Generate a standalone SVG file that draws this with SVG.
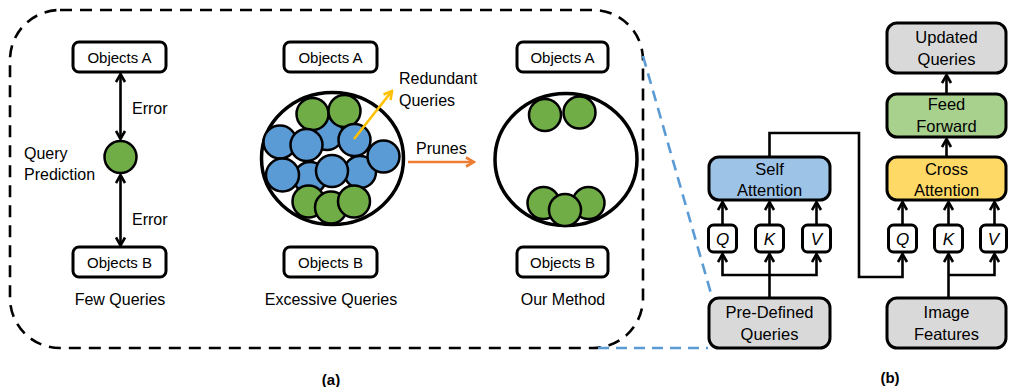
<svg xmlns="http://www.w3.org/2000/svg" width="1009" height="387" viewBox="0 0 1009 387">
  <defs>
    <marker id="arr" viewBox="0 0 12 12" markerWidth="12" markerHeight="12" refX="10" refY="6" orient="auto-start-reverse" markerUnits="userSpaceOnUse">
      <path d="M2,1.5 L10,6 L2,10.5" fill="none" stroke="#000" stroke-width="2.6" stroke-linejoin="miter"/>
    </marker>
    <marker id="arrY" viewBox="0 0 12 12" markerWidth="12" markerHeight="12" refX="10" refY="6" orient="auto" markerUnits="userSpaceOnUse">
      <path d="M2,1.5 L10,6 L2,10.5" fill="none" stroke="#ffc000" stroke-width="2.6"/>
    </marker>
    <marker id="arrO" viewBox="0 0 12 12" markerWidth="12" markerHeight="12" refX="10" refY="6" orient="auto" markerUnits="userSpaceOnUse">
      <path d="M2,1.5 L10,6 L2,10.5" fill="none" stroke="#ed7d31" stroke-width="2.6"/>
    </marker>
  </defs>
  <style>
    text { font-family: "Liberation Sans", Arial, sans-serif; fill: #000; }
    .lbl { font-size: 16px; }
    .box { fill: #fff; stroke: #000; stroke-width: 3; }
    .obj { font-size: 15px; text-anchor: middle; }
    .ring { fill: #fff; stroke: #000; stroke-width: 3.5; }
    .g { fill: #70ad47; stroke: #000; stroke-width: 2.5; }
    .b { fill: #5b9bd5; stroke: #000; stroke-width: 2.5; }
    .blk { fill: #000; stroke: #000; stroke-width: 3; stroke-linejoin: round; }
    .gray { fill: #d9d9d9; stroke: #000; stroke-width: 3; }
    .mid { font-size: 16.5px; text-anchor: middle; }
    .qkv { font-size: 17px; font-style: italic; text-anchor: middle; }
    .wire { fill: none; stroke: #000; stroke-width: 2.6; }
    .cap { font-size: 15px; font-weight: bold; text-anchor: middle; }
  </style>

  <!-- panel (a) frame and zoom guides -->
  <rect x="10" y="10" width="633" height="338" rx="50" ry="50" fill="none" stroke="#000" stroke-width="2.6" stroke-dasharray="12 8"/>
  <g id="zoom-guides" fill="none" stroke="#5b9bd5" stroke-width="2.6" stroke-dasharray="11 7">
    <path d="M643,56 L712,297"/>
    <path d="M598,348 L708,348"/>
  </g>

  <!-- few queries -->
  <g id="few-objA"><rect class="box" x="73" y="42" width="93" height="30" rx="6"/><text class="obj" x="119.5" y="62.5">Objects A</text></g>
  <g id="few-objB"><rect class="box" x="73" y="247" width="93" height="30" rx="6"/><text class="obj" x="119.5" y="267.5">Objects B</text></g>
  <g id="few-pred"><circle class="g" cx="120.5" cy="157" r="16"/></g>
  <text class="lbl" x="24" y="159">Query</text>
  <text class="lbl" x="24" y="180">Prediction</text>
  <text class="lbl" x="132" y="114">Error</text>
  <text class="lbl" x="132" y="225">Error</text>
  <text class="lbl" x="120" y="305" text-anchor="middle">Few Queries</text>

  <!-- excessive queries -->
  <g id="exc-objA"><rect class="box" x="284" y="42" width="93" height="30" rx="6"/><text class="obj" x="330.5" y="62.5">Objects A</text></g>
  <g id="exc-objB"><rect class="box" x="284" y="247" width="93" height="30" rx="6"/><text class="obj" x="330.5" y="267.5">Objects B</text></g>
  <g id="exc-set">
    <ellipse class="ring" cx="332.5" cy="158.5" rx="71" ry="66"/>
    <circle class="b" cx="327" cy="134" r="16"/>
    <circle class="b" cx="310" cy="178" r="16"/>
    <circle class="g" cx="312.5" cy="114" r="16"/>
    <circle class="g" cx="344.5" cy="111" r="16"/>
    <circle class="b" cx="280" cy="142" r="16.5"/>
    <circle class="b" cx="306.5" cy="145" r="16"/>
    <circle class="b" cx="360" cy="172" r="16"/>
    <circle class="b" cx="354.5" cy="140" r="16"/>
    <circle class="b" cx="383.5" cy="156.5" r="16"/>
    <circle class="b" cx="282.5" cy="175" r="16.5"/>
    <circle class="b" cx="332" cy="171" r="16"/>
    <circle class="g" cx="308.5" cy="201.5" r="16"/>
    <circle class="g" cx="331" cy="207.5" r="16"/>
    <circle class="g" cx="354" cy="201.5" r="16"/>
  </g>
  <text class="lbl" x="399" y="84">Redundant</text>
  <text class="lbl" x="399" y="106">Queries</text>
  <text class="lbl" x="416" y="154">Prunes</text>
  <text class="lbl" x="331" y="305" text-anchor="middle">Excessive Queries</text>

  <!-- our method -->
  <g id="our-objA"><rect class="box" x="517" y="42" width="91" height="30" rx="6"/><text class="obj" x="562.5" y="62.5">Objects A</text></g>
  <g id="our-objB"><rect class="box" x="517" y="247" width="91" height="30" rx="6"/><text class="obj" x="562.5" y="267.5">Objects B</text></g>
  <g id="our-set">
    <ellipse class="ring" cx="566" cy="159.5" rx="71" ry="66"/>
    <circle class="g" cx="545" cy="115" r="16"/>
    <circle class="g" cx="579.5" cy="112.5" r="16"/>
    <circle class="g" cx="543.5" cy="203" r="16"/>
    <circle class="g" cx="588.5" cy="203" r="16"/>
    <circle class="g" cx="565" cy="210" r="16"/>
  </g>
  <text class="lbl" x="563" y="305" text-anchor="middle">Our Method</text>

  <!-- panel (b) nodes -->
  <g id="pre-defined"><rect class="gray" x="709" y="298" width="121" height="50" rx="10"/><text class="mid" x="769.5" y="318">Pre-Defined</text><text class="mid" x="769.5" y="340">Queries</text></g>
  <g id="self-attn"><rect x="709" y="157" width="121" height="43" rx="10" fill="#9dc3e6" stroke="#000" stroke-width="3"/><text class="mid" x="769.5" y="175">Self</text><text class="mid" x="769.5" y="196">Attention</text></g>
  <g id="sa-q"><rect class="box" x="708.5" y="225" width="28" height="27" rx="5"/><text class="qkv" x="722.5" y="244.5">Q</text></g>
  <g id="sa-k"><rect class="box" x="755.5" y="225" width="28" height="27" rx="5"/><text class="qkv" x="769.5" y="244.5">K</text></g>
  <g id="sa-v"><rect class="box" x="802.5" y="225" width="28" height="27" rx="5"/><text class="qkv" x="816.5" y="244.5">V</text></g>

  <g id="image-features"><rect class="gray" x="887" y="298" width="119" height="50" rx="10"/><text class="mid" x="946.5" y="318">Image</text><text class="mid" x="946.5" y="340">Features</text></g>
  <g id="cross-attn"><rect x="887" y="157" width="119" height="43" rx="10" fill="#ffd966" stroke="#000" stroke-width="3"/><text class="mid" x="946.5" y="175">Cross</text><text class="mid" x="946.5" y="196">Attention</text></g>
  <g id="ca-q"><rect class="box" x="888.5" y="225" width="28" height="27" rx="5"/><text class="qkv" x="902.5" y="244.5">Q</text></g>
  <g id="ca-k"><rect class="box" x="934.5" y="225" width="28" height="27" rx="5"/><text class="qkv" x="948.5" y="244.5">K</text></g>
  <g id="ca-v"><rect class="box" x="980.5" y="225" width="26" height="27" rx="5"/><text class="qkv" x="993.5" y="244.5">V</text></g>
  <g id="feed-forward"><rect x="887" y="94" width="119" height="43" rx="10" fill="#a9d18e" stroke="#000" stroke-width="3"/><text class="mid" x="946.5" y="110">Feed</text><text class="mid" x="946.5" y="132">Forward</text></g>
  <g id="updated-queries"><rect class="gray" x="887" y="23" width="119" height="50" rx="10"/><text class="mid" x="946.5" y="43">Updated</text><text class="mid" x="946.5" y="65">Queries</text></g>

  <text class="cap" x="331" y="385">(a)</text>
  <text class="cap" x="890" y="383">(b)</text>

  <!-- connectors -->
  <g id="connectors">
    <path class="wire" d="M120.5,74 L120.5,139" marker-start="url(#arr)" marker-end="url(#arr)"/>
    <path class="wire" d="M120.5,175 L120.5,245.5" marker-start="url(#arr)" marker-end="url(#arr)"/>
    <path d="M354,139 L392,91" fill="none" stroke="#ffc000" stroke-width="2.6" marker-end="url(#arrY)"/>
    <path d="M408,162 L474,162" fill="none" stroke="#ed7d31" stroke-width="2.6" marker-end="url(#arrO)"/>

    <path class="wire" d="M722.5,225 L722.5,202" marker-end="url(#arr)"/>
    <path class="wire" d="M769.5,225 L769.5,202" marker-end="url(#arr)"/>
    <path class="wire" d="M816.5,225 L816.5,202" marker-end="url(#arr)"/>
    <path class="wire" d="M769.5,298 L769.5,254" marker-end="url(#arr)"/>
    <path class="wire" d="M722.5,254 L722.5,275 L816.5,275 L816.5,254" marker-start="url(#arr)" marker-end="url(#arr)"/>
    <path class="wire" d="M769.5,157 L769.5,133 L859,133 L859,277 L902.5,277 L902.5,254" marker-end="url(#arr)"/>

    <path class="wire" d="M902.5,225 L902.5,202" marker-end="url(#arr)"/>
    <path class="wire" d="M948.5,225 L948.5,202" marker-end="url(#arr)"/>
    <path class="wire" d="M994.5,225 L994.5,202" marker-end="url(#arr)"/>
    <path class="wire" d="M948.5,298 L948.5,254" marker-end="url(#arr)"/>
    <path class="wire" d="M948.5,275 L994.5,275 L994.5,254" marker-end="url(#arr)"/>
    <path class="wire" d="M946.5,157 L946.5,139" marker-end="url(#arr)"/>
    <path class="wire" d="M946.5,94 L946.5,75" marker-end="url(#arr)"/>
  </g>
</svg>
